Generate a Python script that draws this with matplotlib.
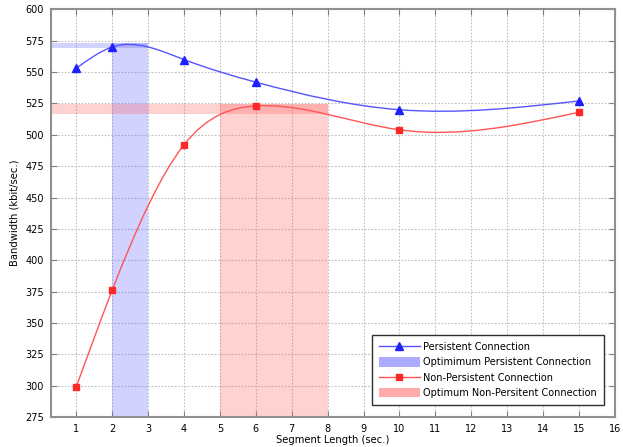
import matplotlib
matplotlib.use('Agg')
import numpy as np
import matplotlib.pyplot as plt
from matplotlib.path import Path
from matplotlib.patches import PathPatch, Patch
from matplotlib.lines import Line2D

# measured values
segment_len = [1, 2, 4, 6, 10, 15]
persistent = [553, 570, 560, 542, 520, 527]
non_persistent = [299, 376, 492, 523, 504, 518]

# optimum ranges: (x from, x to, y low, y high)
opt_persistent = (2, 3, 569.5, 573.5)
opt_non_persistent = (5, 8, 516.8, 524.4)

x_ticks = list(range(1, 17))
y_ticks = list(range(275, 601, 25))


# natural cubic spline through the points, drawn as a bezier path
def smooth_path(xs, ys):
    xs = np.asarray(xs, float)
    ys = np.asarray(ys, float)
    n = len(xs)
    h = np.diff(xs)
    A = np.zeros((n, n))
    b = np.zeros(n)
    A[0, 0] = A[-1, -1] = 1
    for i in range(1, n - 1):
        A[i, i - 1] = h[i - 1]
        A[i, i] = 2 * (h[i - 1] + h[i])
        A[i, i + 1] = h[i]
        b[i] = 6 * ((ys[i + 1] - ys[i]) / h[i] - (ys[i] - ys[i - 1]) / h[i - 1])
    M = np.linalg.solve(A, b)
    m = np.zeros(n)
    for i in range(n - 1):
        m[i] = (ys[i + 1] - ys[i]) / h[i] - h[i] * (2 * M[i] + M[i + 1]) / 6
    m[-1] = (ys[-1] - ys[-2]) / h[-1] + h[-1] * (M[-2] + 2 * M[-1]) / 6
    verts = [(xs[0], ys[0])]
    codes = [Path.MOVETO]
    for i in range(n - 1):
        d = h[i]
        verts += [(xs[i] + d / 3, ys[i] + m[i] * d / 3),
                  (xs[i + 1] - d / 3, ys[i + 1] - m[i + 1] * d / 3),
                  (xs[i + 1], ys[i + 1])]
        codes += [Path.CURVE4] * 3
    return Path(verts, codes)


plt.rcParams['font.family'] = ['DejaVu Sans']
fig = plt.figure(figsize=(6.23, 4.47), dpi=100)
ax = fig.add_axes([0.082, 0.067, 0.905, 0.912])

xmin = 0.3
ax.set_xlim(xmin, 16)
ax.set_ylim(275, 600)

blue_band = (0.35, 0.35, 1.0)
red_band = (1.0, 0.35, 0.35)
a = 0.27

# persistent optimum bands
x0, x1, y0, y1 = opt_persistent
ax.fill_between([x0, x1], 275, y1, color=blue_band, alpha=a, lw=0, zorder=1)
ax.fill_between([xmin, x1], y0, y1, color=blue_band, alpha=a, lw=0, zorder=1)
# non-persistent optimum bands
x0, x1, y0, y1 = opt_non_persistent
ax.fill_between([x0, x1], 275, y1, color=red_band, alpha=a, lw=0, zorder=1)
ax.fill_between([xmin, x1], y0, y1, color=red_band, alpha=a, lw=0, zorder=1)

ax.add_patch(PathPatch(smooth_path(segment_len, persistent), fill=False,
                       edgecolor='#5555ff', lw=1.0, zorder=3))
ax.add_patch(PathPatch(smooth_path(segment_len, non_persistent), fill=False,
                       edgecolor='#ff5555', lw=1.0, zorder=3))
ax.plot(segment_len, persistent, ls='none', marker='^', ms=5.5, color='#2020ff', zorder=4)
ax.plot(segment_len, non_persistent, ls='none', marker='s', ms=4.5, color='#ff2828', zorder=4)

ax.set_xticks(x_ticks)
ax.set_yticks(y_ticks)
ax.grid(True, ls=(0, (1.5, 1.5)), color='#c0c0c0', lw=0.8)
ax.set_axisbelow(True)
ax.tick_params(direction='in', length=4, labelsize=7, color='#808080',
               top=True, right=True, pad=5)
for s in ax.spines.values():
    s.set_color('#909090')
    s.set_linewidth(1.5)

ax.set_xlabel('Segment Length (sec.)', fontsize=7.2, labelpad=1)
ax.set_ylabel('Bandwidth (kbit/sec.)', fontsize=7.2, labelpad=4)

handles = [
    Line2D([], [], color='#5555ff', lw=1.0, marker='^', ms=5.5, mfc='#2020ff', mec='#2020ff'),
    Patch(facecolor=blue_band, alpha=0.5, lw=0),
    Line2D([], [], color='#ff5555', lw=1.0, marker='s', ms=4.5, mfc='#ff2828', mec='#ff2828'),
    Patch(facecolor=red_band, alpha=0.5, lw=0),
]
labels = ['Persistent Connection', 'Optimimum Persistent Connection',
          'Non-Persistent Connection', 'Optimum Non-Persitent Connection']
leg = ax.legend(handles, labels, loc='lower right', bbox_to_anchor=(0.986, 0.022),
                fontsize=7, fancybox=False, framealpha=1, edgecolor='#303030',
                handlelength=4.2, handleheight=1.1, borderpad=0.75, labelspacing=0.55,
                handletextpad=0.35, borderaxespad=0.3)
leg.get_frame().set_linewidth(1.0)

fig.savefig('out.png', dpi=100)
